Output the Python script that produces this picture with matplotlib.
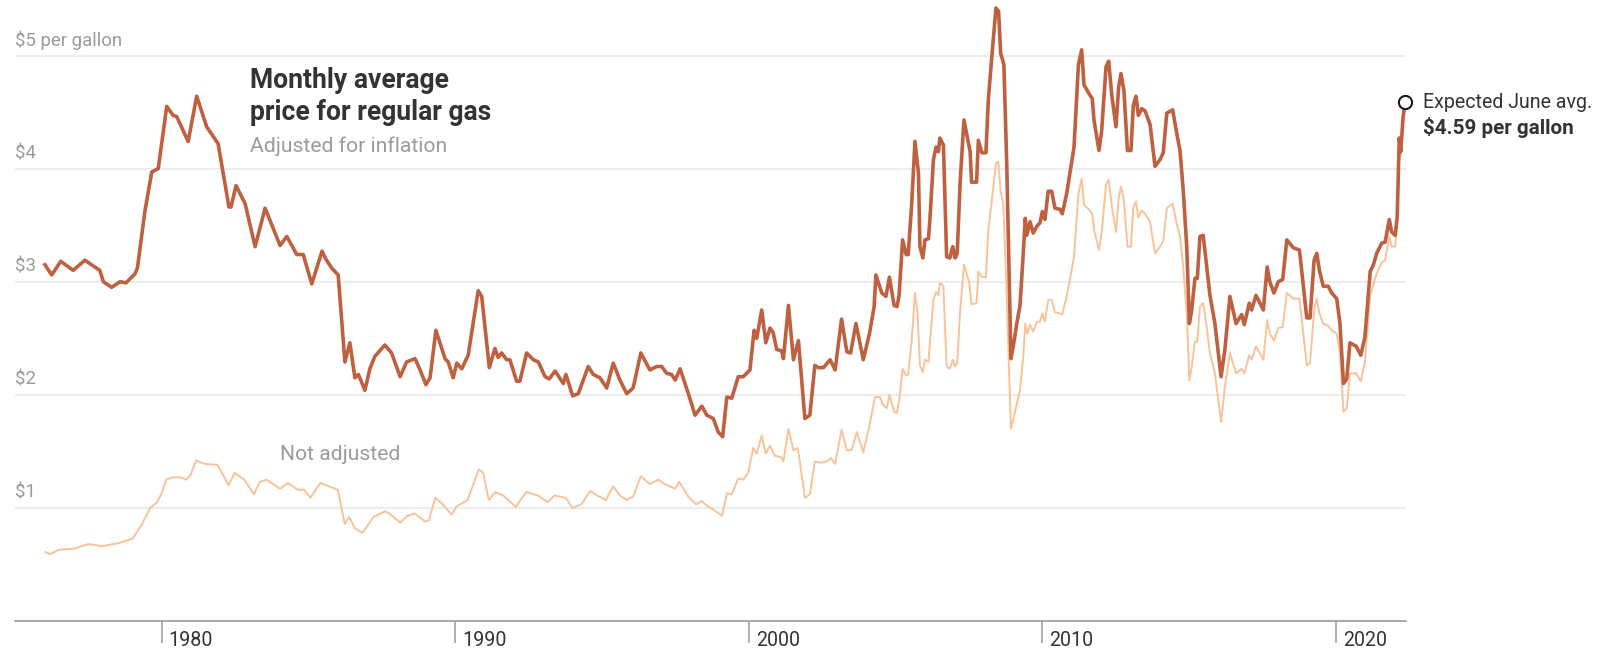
import matplotlib
matplotlib.use("Agg")
import matplotlib.pyplot as plt

# ---- data (decimal year, $ per gallon) ----
adjusted = [(1976.02,3.15),(1976.25,3.06),(1976.56,3.18),(1976.98,3.10),(1977.38,3.19),(1977.89,3.10),(1978.01,3.00),(1978.29,2.95),(1978.58,3.00),(1978.78,2.99),(1979.09,3.07),(1979.17,3.12),(1979.43,3.63),(1979.66,3.97),(1979.88,4.00),(1980.17,4.55),(1980.39,4.47),(1980.51,4.46),(1980.90,4.24),(1981.19,4.64),(1981.53,4.37),(1981.92,4.22),(1982.29,3.66),(1982.36,3.66),(1982.53,3.85),(1982.84,3.69),(1983.18,3.31),(1983.52,3.65),(1984.03,3.32),(1984.26,3.40),(1984.60,3.24),(1984.82,3.24),(1985.11,2.98),(1985.46,3.27),(1985.59,3.20),(1985.79,3.12),(1986.01,3.06),(1986.24,2.29),(1986.41,2.46),(1986.58,2.15),(1986.70,2.18),(1986.92,2.04),(1987.09,2.23),(1987.26,2.34),(1987.60,2.44),(1987.83,2.37),(1988.12,2.16),(1988.34,2.29),(1988.63,2.32),(1988.80,2.22),(1989.00,2.09),(1989.14,2.15),(1989.34,2.57),(1989.65,2.32),(1989.76,2.29),(1989.93,2.15),(1990.05,2.28),(1990.22,2.23),(1990.44,2.35),(1990.78,2.92),(1990.90,2.87),(1991.01,2.60),(1991.16,2.24),(1991.35,2.41),(1991.46,2.33),(1991.58,2.37),(1991.75,2.31),(1991.86,2.31),(1992.09,2.12),(1992.20,2.12),(1992.43,2.37),(1992.66,2.31),(1992.83,2.29),(1993.06,2.16),(1993.20,2.14),(1993.40,2.21),(1993.68,2.10),(1993.77,2.18),(1994.00,1.99),(1994.19,2.01),(1994.53,2.25),(1994.70,2.18),(1994.93,2.15),(1995.16,2.06),(1995.38,2.28),(1995.61,2.13),(1995.84,2.01),(1996.06,2.06),(1996.32,2.37),(1996.63,2.22),(1996.86,2.25),(1997.03,2.25),(1997.20,2.19),(1997.37,2.18),(1997.49,2.13),(1997.66,2.23),(1997.94,2.01),(1998.17,1.82),(1998.40,1.90),(1998.57,1.82),(1998.79,1.79),(1998.96,1.67),(1999.11,1.63),(1999.25,1.98),(1999.42,1.97),(1999.64,2.16),(1999.81,2.16),(2000.04,2.22),(2000.18,2.57),(2000.27,2.50),(2000.44,2.75),(2000.58,2.46),(2000.72,2.59),(2000.83,2.55),(2000.95,2.40),(2001.12,2.39),(2001.18,2.32),(2001.35,2.79),(2001.52,2.31),(2001.69,2.48),(2001.91,1.79),(2002.08,1.82),(2002.25,2.26),(2002.37,2.24),(2002.54,2.24),(2002.77,2.31),(2002.94,2.22),(2003.16,2.67),(2003.34,2.38),(2003.47,2.37),(2003.65,2.63),(2003.90,2.31),(2004.11,2.54),(2004.27,2.78),(2004.33,3.06),(2004.53,2.90),(2004.67,2.87),(2004.79,3.04),(2004.95,2.79),(2005.05,2.78),(2005.12,2.88),(2005.24,3.37),(2005.36,3.24),(2005.43,3.24),(2005.55,3.69),(2005.66,4.24),(2005.78,3.96),(2005.83,3.31),(2005.93,3.21),(2006.00,3.37),(2006.12,3.38),(2006.17,3.55),(2006.29,4.08),(2006.38,4.19),(2006.46,4.15),(2006.51,4.27),(2006.63,4.21),(2006.74,3.22),(2006.85,3.21),(2006.95,3.31),(2007.03,3.21),(2007.10,3.25),(2007.20,3.88),(2007.33,4.43),(2007.54,4.15),(2007.59,3.88),(2007.76,3.88),(2007.82,4.25),(2007.94,4.14),(2008.08,4.14),(2008.16,4.61),(2008.28,4.99),(2008.42,5.42),(2008.51,5.39),(2008.58,5.02),(2008.69,4.92),(2008.79,4.02),(2008.93,2.32),(2009.01,2.43),(2009.13,2.63),(2009.24,2.79),(2009.35,3.25),(2009.42,3.56),(2009.47,3.41),(2009.58,3.53),(2009.69,3.43),(2009.81,3.49),(2009.92,3.52),(2010.00,3.62),(2010.09,3.55),(2010.20,3.80),(2010.32,3.80),(2010.43,3.65),(2010.60,3.64),(2010.68,3.60),(2010.83,3.78),(2010.94,3.96),(2011.08,4.19),(2011.23,4.92),(2011.34,5.05),(2011.42,4.74),(2011.62,4.65),(2011.70,4.62),(2011.76,4.43),(2011.93,4.16),(2012.02,4.33),(2012.17,4.90),(2012.26,4.95),(2012.37,4.64),(2012.51,4.37),(2012.60,4.72),(2012.68,4.84),(2012.78,4.69),(2012.90,4.16),(2013.02,4.16),(2013.10,4.56),(2013.19,4.64),(2013.27,4.47),(2013.39,4.53),(2013.50,4.51),(2013.67,4.39),(2013.84,4.02),(2014.01,4.08),(2014.12,4.14),(2014.24,4.49),(2014.44,4.52),(2014.58,4.31),(2014.69,4.16),(2014.80,3.81),(2014.92,3.31),(2015.01,2.63),(2015.09,2.75),(2015.20,3.03),(2015.28,3.03),(2015.37,3.40),(2015.48,3.41),(2015.60,3.13),(2015.71,2.88),(2015.88,2.63),(2016.09,2.16),(2016.22,2.40),(2016.39,2.87),(2016.60,2.63),(2016.79,2.71),(2016.88,2.62),(2017.05,2.81),(2017.13,2.75),(2017.28,2.88),(2017.53,2.75),(2017.66,3.13),(2017.75,3.00),(2017.89,2.90),(2018.04,3.00),(2018.19,3.02),(2018.33,3.37),(2018.55,3.30),(2018.76,3.28),(2019.01,2.68),(2019.12,2.68),(2019.26,3.19),(2019.35,3.25),(2019.44,3.10),(2019.57,2.96),(2019.74,2.96),(2019.86,2.90),(2020.03,2.85),(2020.14,2.63),(2020.26,2.10),(2020.37,2.14),(2020.48,2.46),(2020.69,2.43),(2020.85,2.35),(2020.99,2.51),(2021.17,3.09),(2021.28,3.15),(2021.39,3.25),(2021.56,3.34),(2021.68,3.35),(2021.82,3.55),(2021.90,3.44),(2022.02,3.41),(2022.09,3.57),(2022.16,4.27),(2022.21,4.15),(2022.29,4.45),(2022.36,4.59)]

nominal = [(1976.04,0.61),(1976.19,0.59),(1976.50,0.63),(1977.03,0.64),(1977.49,0.68),(1977.79,0.67),(1977.94,0.66),(1978.55,0.69),(1979.01,0.73),(1979.31,0.85),(1979.61,1.00),(1979.84,1.05),(1980.00,1.13),(1980.15,1.25),(1980.38,1.27),(1980.65,1.27),(1980.83,1.25),(1980.98,1.29),(1981.17,1.42),(1981.44,1.39),(1981.90,1.38),(1982.05,1.31),(1982.28,1.20),(1982.48,1.31),(1982.81,1.25),(1983.14,1.12),(1983.34,1.23),(1983.57,1.25),(1984.03,1.17),(1984.30,1.22),(1984.64,1.16),(1984.85,1.16),(1985.06,1.09),(1985.40,1.22),(1985.70,1.19),(1986.00,1.16),(1986.23,0.86),(1986.38,0.92),(1986.58,0.82),(1986.84,0.78),(1987.22,0.92),(1987.60,0.97),(1987.75,0.95),(1988.13,0.87),(1988.36,0.93),(1988.62,0.95),(1988.97,0.88),(1989.10,0.89),(1989.32,1.09),(1989.58,1.03),(1989.88,0.94),(1990.03,1.01),(1990.42,1.07),(1990.80,1.34),(1990.95,1.31),(1991.14,1.07),(1991.36,1.14),(1991.63,1.11),(1992.06,1.01),(1992.42,1.14),(1992.82,1.11),(1993.15,1.05),(1993.38,1.11),(1993.76,1.09),(1993.99,1.00),(1994.29,1.03),(1994.60,1.15),(1994.83,1.11),(1995.13,1.07),(1995.38,1.19),(1995.61,1.11),(1995.84,1.07),(1996.06,1.10),(1996.32,1.28),(1996.63,1.21),(1996.92,1.25),(1997.14,1.21),(1997.49,1.17),(1997.63,1.23),(1997.94,1.10),(1998.20,1.03),(1998.40,1.06),(1998.57,1.02),(1998.93,0.96),(1999.09,0.93),(1999.25,1.13),(1999.42,1.12),(1999.64,1.26),(1999.81,1.25),(1999.98,1.31),(2000.15,1.53),(2000.27,1.48),(2000.44,1.64),(2000.58,1.48),(2000.72,1.55),(2000.89,1.46),(2001.10,1.45),(2001.18,1.41),(2001.35,1.70),(2001.52,1.51),(2001.67,1.53),(2001.91,1.09),(2002.08,1.12),(2002.25,1.41),(2002.45,1.40),(2002.65,1.41),(2002.80,1.44),(2002.94,1.39),(2003.16,1.69),(2003.34,1.51),(2003.50,1.51),(2003.68,1.67),(2003.90,1.49),(2004.13,1.75),(2004.30,1.98),(2004.47,1.98),(2004.58,1.91),(2004.70,1.88),(2004.79,2.00),(2004.95,1.85),(2005.04,1.84),(2005.12,1.94),(2005.24,2.23),(2005.36,2.17),(2005.43,2.18),(2005.55,2.48),(2005.66,2.90),(2005.75,2.72),(2005.83,2.26),(2005.93,2.20),(2006.00,2.31),(2006.12,2.29),(2006.17,2.46),(2006.29,2.84),(2006.38,2.91),(2006.46,2.88),(2006.51,2.99),(2006.63,2.96),(2006.74,2.25),(2006.85,2.23),(2006.95,2.31),(2007.03,2.25),(2007.10,2.28),(2007.20,2.75),(2007.33,3.15),(2007.51,2.99),(2007.59,2.80),(2007.76,2.81),(2007.82,3.09),(2007.94,3.04),(2008.08,3.04),(2008.16,3.46),(2008.28,3.72),(2008.42,4.05),(2008.50,4.06),(2008.58,3.80),(2008.67,3.69),(2008.79,2.84),(2008.93,1.70),(2009.01,1.78),(2009.13,1.92),(2009.24,2.04),(2009.35,2.34),(2009.42,2.63),(2009.49,2.54),(2009.58,2.62),(2009.69,2.56),(2009.81,2.64),(2009.92,2.65),(2010.00,2.72),(2010.09,2.65),(2010.20,2.84),(2010.32,2.84),(2010.43,2.73),(2010.60,2.72),(2010.68,2.71),(2010.83,2.87),(2010.94,3.02),(2011.08,3.22),(2011.23,3.78),(2011.34,3.91),(2011.42,3.68),(2011.62,3.63),(2011.70,3.60),(2011.76,3.46),(2011.93,3.28),(2012.02,3.43),(2012.17,3.86),(2012.26,3.90),(2012.37,3.66),(2012.51,3.44),(2012.60,3.74),(2012.68,3.84),(2012.78,3.72),(2012.90,3.31),(2013.02,3.31),(2013.10,3.66),(2013.19,3.71),(2013.27,3.57),(2013.39,3.63),(2013.50,3.60),(2013.67,3.53),(2013.84,3.25),(2014.01,3.31),(2014.12,3.36),(2014.24,3.65),(2014.44,3.69),(2014.58,3.51),(2014.69,3.40),(2014.80,3.13),(2014.92,2.72),(2015.01,2.13),(2015.09,2.25),(2015.20,2.47),(2015.28,2.47),(2015.37,2.78),(2015.48,2.81),(2015.60,2.60),(2015.71,2.37),(2015.88,2.19),(2016.09,1.76),(2016.22,2.07),(2016.39,2.37),(2016.60,2.19),(2016.79,2.23),(2016.88,2.19),(2017.05,2.35),(2017.13,2.31),(2017.28,2.43),(2017.53,2.31),(2017.66,2.66),(2017.75,2.54),(2017.89,2.48),(2018.04,2.59),(2018.19,2.60),(2018.33,2.90),(2018.55,2.85),(2018.76,2.85),(2019.01,2.26),(2019.12,2.28),(2019.26,2.75),(2019.35,2.85),(2019.44,2.72),(2019.57,2.63),(2019.74,2.61),(2019.86,2.57),(2020.03,2.54),(2020.14,2.37),(2020.26,1.85),(2020.37,1.88),(2020.48,2.19),(2020.69,2.19),(2020.85,2.12),(2020.99,2.29),(2021.17,2.87),(2021.28,2.98),(2021.39,3.07),(2021.56,3.17),(2021.68,3.19),(2021.82,3.40),(2021.90,3.31),(2022.02,3.31),(2022.09,3.52),(2022.16,4.22),(2022.21,4.11),(2022.29,4.42),(2022.36,4.59)]

adj_years, adj_prices = zip(*adjusted)
nom_years, nom_prices = zip(*nominal)

year_ticks = [1980, 1990, 2000, 2010, 2020]
year_labels = ["1980", "1990", "2000", "2010", "2020"]
price_levels = [1, 2, 3, 4, 5]
price_labels = ["$1", "$2", "$3", "$4", "$5 per gallon"]
expected_june = 4.59

# ---- styling ----
W, H = 1609, 652
DARK = "#bf6140"
LIGHT = "#f8c39b"
GRID = "#ededed"
AXIS = "#9a9a9a"
GRAYTXT = "#9b9b9b"
INK = "#333333"
FONT = "Roboto"

fig = plt.figure(figsize=(W / 100, H / 100), dpi=100)
fig.patch.set_facecolor("white")

# axes in pixel geometry: x 15..1406, y baseline at 621, 113.1 px per dollar
left_px, right_px, base_px = 15, 1406, 621
ax = fig.add_axes([left_px / W, (H - base_px) / H, (right_px - left_px) / W, base_px / H])
ax.set_xlim(1975.0, 2022.39)
ax.set_ylim(0, base_px / 113.1)

for s in ["top", "right", "left"]:
    ax.spines[s].set_visible(False)
ax.spines["bottom"].set_color(AXIS)
ax.spines["bottom"].set_linewidth(1.2)

ax.set_yticks(price_levels)
ax.yaxis.grid(True, color=GRID, linewidth=1.6)
ax.set_axisbelow(True)
ax.tick_params(axis="y", length=0, labelleft=False)
ax.set_xticks(year_ticks)
ax.tick_params(axis="x", direction="out", length=16, width=1.1, color=AXIS, labelbottom=False)

ax.plot(nom_years, nom_prices, color=LIGHT, linewidth=1.4, solid_joinstyle="round", zorder=2)
ax.plot(adj_years, adj_prices, color=DARK, linewidth=2.6, solid_joinstyle="round", zorder=3)
ax.plot([adj_years[-1]], [expected_june], "o", ms=9.5, mfc="white", mec="#1a1a1a", mew=1.5,
        zorder=5, clip_on=False)

renderer = fig.canvas.get_renderer()


def fitted(texts, ref_index, target_w, **kw):
    """texts: list of (x_px, y_px_center, string). Font size chosen so texts[ref_index] has target_w px."""
    size = 12
    objs = []
    for (x, y, s) in texts:
        objs.append(fig.text(x / W, 1 - y / H, s, ha="left", va="center", fontsize=size,
                             family=FONT, **kw))
    w = objs[ref_index].get_window_extent(renderer).width
    new = size * target_w / w
    for o in objs:
        o.set_fontsize(new)
    return objs


# y labels
ylab = []
for lv, lab in zip(price_levels, price_labels):
    ylab.append((15, base_px - lv * 113.1 - 15, lab))
fitted(ylab, 4, 107, color=GRAYTXT)

# x labels
tick_px = [161.8 + (yr - 1980) * 29.35 for yr in year_ticks]
fitted([(tp + 7, 640, lab) for tp, lab in zip(tick_px, year_labels)], 0, 44, color=INK)

# title block
fitted([(250, 81, "Monthly average"), (250, 113, "price for regular gas")], 1, 241,
       color=INK, fontweight="bold")
fitted([(250, 146, "Adjusted for inflation")], 0, 196, color=GRAYTXT)
fitted([(280, 455, "Not adjusted")], 0, 120, color=GRAYTXT)

# annotation
fitted([(1423, 102, "Expected June avg.")], 0, 169, color=INK)
fitted([(1423, 127, "$4.59 per gallon")], 0, 150, color=INK, fontweight="bold")

fig.savefig("out.png", dpi=100, facecolor="white")
